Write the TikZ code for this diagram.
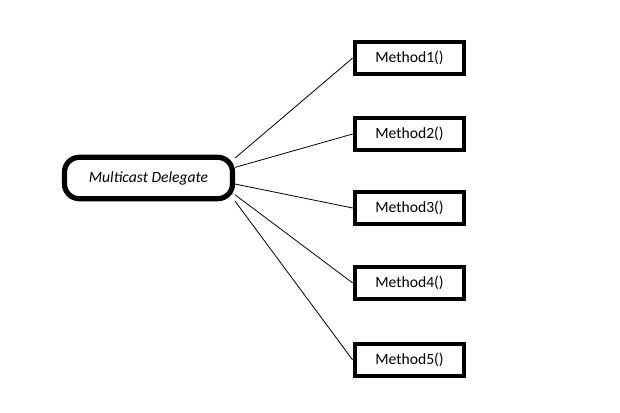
\documentclass[tikz,border=0pt]{standalone}
\usepackage{fontspec}
\setmainfont{Carlito}
\begin{document}
\begin{tikzpicture}[x=0.75pt,y=-0.75pt,font=\fontsize{11.7}{14}\selectfont,
    delegate/.style={draw,line width=3.9pt,rounded corners=11pt,fill=white,minimum width=126pt,minimum height=31pt,inner sep=0pt,font=\fontsize{11.7}{14}\selectfont\itshape},
    methodbox/.style={draw,line width=3.2pt,fill=white,minimum width=82pt,minimum height=24pt,inner sep=0pt},
    link/.style={line width=0.6pt}]
      \useasboundingbox[fill=white] (0,0) rectangle (620,413);

      \node[delegate] (md) at (148.5,178) {Multicast Delegate};

      \node[methodbox] (m1) at (409.5,58) {Method1()};
      \node[methodbox] (m2) at (409.5,134) {Method2()};
      \node[methodbox] (m3) at (409.5,208) {Method3()};
      \node[methodbox] (m4) at (409.5,283) {Method4()};
      \node[methodbox] (m5) at (409.5,360) {Method5()};

      \draw[link] (md.13) -- (m1.west);
      \draw[link] (md.7) -- (m2.west);
      \draw[link] (md.-4) -- (m3.west);
      \draw[link] (md.-11) -- (m4.west);
      \draw[link] (md.-15) -- (m5.west);
    \end{tikzpicture}
\end{document}
